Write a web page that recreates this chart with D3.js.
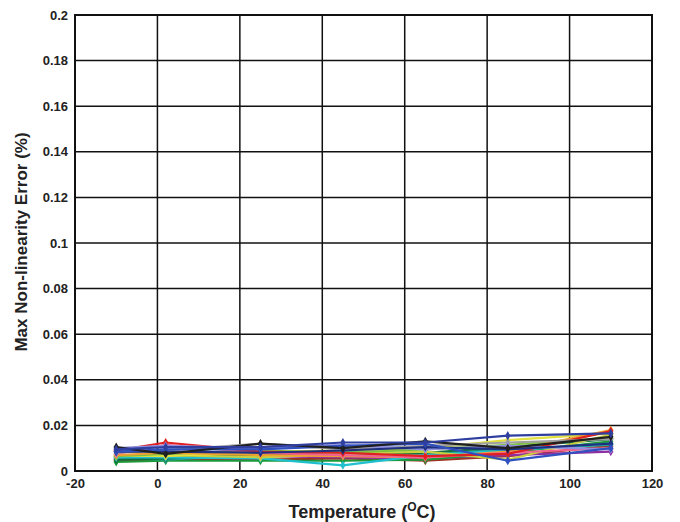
<!DOCTYPE html>
<html><head><meta charset="utf-8">
<script src="https://cdn.jsdelivr.net/npm/d3@7"></script>
<style>body{margin:0;background:#fff}</style>
</head><body>
<svg id="c" width="680" height="522"></svg>
<script>
const temperatures = [-10, 2, 25, 45, 65, 85, 110];
const xTicks = [-20, 0, 20, 40, 60, 80, 100, 120];
const xTickLabels = ["-20", "0", "20", "40", "60", "80", "100", "120"];
const yTicks = [0, 0.02, 0.04, 0.06, 0.08, 0.1, 0.12, 0.14, 0.16, 0.18, 0.2];
const yTickLabels = ["0", "0.02", "0.04", "0.06", "0.08", "0.1", "0.12", "0.14", "0.16", "0.18", "0.2"];
const seriesColors = ["#2f3fa0", "#e02020", "#1a9a3a", "#202020", "#a0a0a0", "#c8d040", "#20c0d0", "#9030a0", "#f0a030", "#107040", "#3050c0", "#f06090", "#20a090", "#9090e0", "#a03020", "#e0e040", "#80c040", "#203080"];
const s1 = [0.0095, 0.0105, 0.0105, 0.0125, 0.0125, 0.0155, 0.0165];
const s2 = [0.0090, 0.0125, 0.0085, 0.0080, 0.0065, 0.0075, 0.0175];
const s3 = [0.0040, 0.0045, 0.0045, 0.0045, 0.0050, 0.0080, 0.0130];
const s4 = [0.0105, 0.0075, 0.0120, 0.0100, 0.0130, 0.0100, 0.0150];
const s5 = [0.0080, 0.0090, 0.0120, 0.0095, 0.0110, 0.0125, 0.0140];
const s6 = [0.0065, 0.0070, 0.0060, 0.0075, 0.0085, 0.0050, 0.0160];
const s7 = [0.0060, 0.0060, 0.0055, 0.0025, 0.0070, 0.0090, 0.0120];
const s8 = [0.0055, 0.0060, 0.0065, 0.0060, 0.0055, 0.0070, 0.0085];
const s9 = [0.0070, 0.0080, 0.0070, 0.0065, 0.0060, 0.0085, 0.0180];
const s10 = [0.0050, 0.0055, 0.0075, 0.0065, 0.0080, 0.0105, 0.0140];
const s11 = [0.0085, 0.0095, 0.0095, 0.0110, 0.0120, 0.0045, 0.0100];
const s12 = [0.0075, 0.0115, 0.0080, 0.0070, 0.0060, 0.0080, 0.0100];
const s13 = [0.0060, 0.0050, 0.0070, 0.0085, 0.0075, 0.0095, 0.0115];
const s14 = [0.0100, 0.0110, 0.0100, 0.0115, 0.0095, 0.0110, 0.0095];
const s15 = [0.0045, 0.0050, 0.0050, 0.0055, 0.0045, 0.0065, 0.0110];
const s16 = [0.0070, 0.0065, 0.0085, 0.0090, 0.0100, 0.0135, 0.0165];
const s17 = [0.0065, 0.0075, 0.0090, 0.0080, 0.0095, 0.0115, 0.0145];
const s18 = [0.0085, 0.0085, 0.0080, 0.0090, 0.0105, 0.0095, 0.0120];
const seriesValues = [s15, s8, s3, s13, s10, s7, s6, s16, s17, s9, s12, s2, s5, s14, s18, s11, s4, s1];
const seriesColorOrder = [14, 7, 2, 12, 9, 6, 5, 15, 16, 8, 11, 1, 4, 13, 17, 10, 3, 0];

const svg = d3.select("#c");
const L = 75, R = 652, T = 15, B = 471;
const x = d3.scaleLinear().domain([-20, 120]).range([L, R]);
const y = d3.scaleLinear().domain([0, 0.2]).range([B, T]);
const font = "'Liberation Sans', Arial, sans-serif";

// grid
const g = svg.append("g");
g.selectAll("line.v").data(xTicks.slice(1, -1)).enter().append("line")
  .attr("x1", d => x(d)).attr("x2", d => x(d)).attr("y1", T).attr("y2", B)
  .attr("stroke", "#111").attr("stroke-width", 1.5);
g.selectAll("line.h").data(yTicks.slice(1, -1)).enter().append("line")
  .attr("y1", d => y(d)).attr("y2", d => y(d)).attr("x1", L).attr("x2", R)
  .attr("stroke", "#111").attr("stroke-width", 1.5);

// series
const line = d3.line().x((d, i) => x(temperatures[i])).y(d => y(d));
seriesValues.forEach((vals, k) => {
  const col = seriesColors[seriesColorOrder[k]];
  svg.append("path").datum(vals).attr("d", line).attr("fill", "none")
    .attr("stroke", col).attr("stroke-width", 2.2);
  svg.selectAll(null).data(vals).enter().append("path")
    .attr("transform", (d, i) => `translate(${x(temperatures[i])},${y(d)})`)
    .attr("d", d3.symbol(d3.symbolDiamond, 24)())
    .attr("fill", col);
});

// frame
svg.append("rect").attr("x", L).attr("y", T).attr("width", R - L).attr("height", B - T)
  .attr("fill", "none").attr("stroke", "#111").attr("stroke-width", 2);

// axes
const yAxis = d3.axisLeft(y).tickValues(yTicks).tickSize(0).tickPadding(7)
  .tickFormat((d, i) => yTickLabels[i]);
const ya = svg.append("g").attr("transform", `translate(${L},0)`).call(yAxis);
ya.select(".domain").remove();
ya.selectAll("text").attr("font-family", font).attr("font-weight", "bold")
  .attr("font-size", 13).attr("fill", "#222");

const xAxis = d3.axisBottom(x).tickValues(xTicks).tickSize(0).tickPadding(8)
  .tickFormat((d, i) => xTickLabels[i]);
const xa = svg.append("g").attr("transform", `translate(0,${B})`).call(xAxis);
xa.select(".domain").remove();
xa.selectAll("text").attr("font-family", font).attr("font-weight", "bold")
  .attr("font-size", 13).attr("fill", "#222");

// titles
const xt = svg.append("text").attr("x", 362).attr("y", 518)
  .attr("text-anchor", "middle").attr("font-family", font).attr("font-weight", "bold")
  .attr("font-size", 18).attr("fill", "#222");
xt.append("tspan").text("Temperature (");
xt.append("tspan").text("O").attr("font-size", 12).attr("dy", -7);
xt.append("tspan").text("C)").attr("dy", 7);

svg.append("text").attr("transform", `translate(27,242) rotate(-90)`)
  .attr("text-anchor", "middle").attr("font-family", font).attr("font-weight", "bold")
  .attr("font-size", 17).attr("fill", "#222").text("Max Non-linearity Error (%)");
</script>
</body></html>
